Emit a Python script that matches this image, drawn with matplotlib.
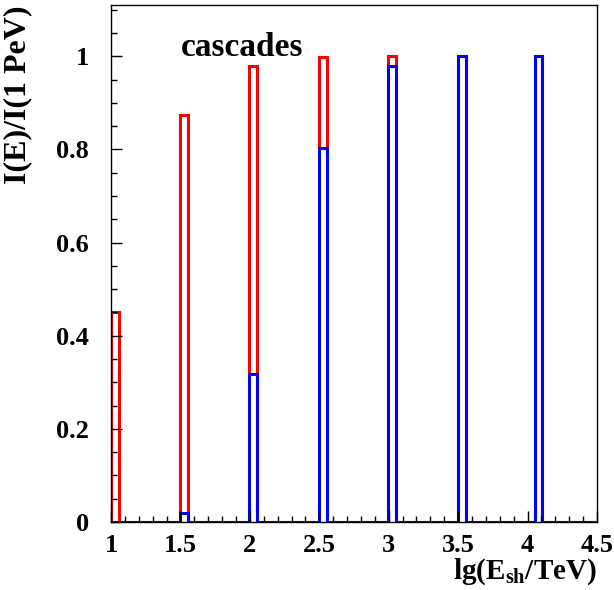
import numpy as np
import matplotlib
matplotlib.use("Agg")
import matplotlib.pyplot as plt
from matplotlib.ticker import MultipleLocator

# bin left edges, lg(E_sh/TeV)
bin_left = [1.0, 1.5, 1.995, 2.5, 2.995, 3.5, 4.05]
bin_width = 0.055
red_vals = [0.45, 0.873, 0.978, 0.998, 1.0, 1.0, 1.0]
blue_vals = [0.0, 0.019, 0.318, 0.802, 0.98, 1.0, 1.0]

plt.rcParams['font.family'] = ['Liberation Serif', 'DejaVu Serif']
plt.rcParams['font.weight'] = 'bold'
plt.rcParams['mathtext.fontset'] = 'custom'
plt.rcParams['mathtext.rm'] = 'Liberation Serif:bold'
plt.rcParams['mathtext.bf'] = 'Liberation Serif:bold'
plt.rcParams['mathtext.it'] = 'Liberation Serif:bold'


def build_steps(left, width, vals, xmax=4.5):
    edges = [left[0]]
    heights = []
    for l, v in zip(left, vals):
        if l > edges[-1]:
            heights.append(0.0)
            edges.append(l)
        heights.append(v)
        edges.append(l + width)
    if edges[-1] < xmax:
        heights.append(0.0)
        edges.append(xmax)
    return np.array(edges), np.array(heights)


fig = plt.figure(figsize=(6.14, 5.90), dpi=100)
ax = fig.add_axes([0.1808, 0.1153, 0.7915, 0.8762])

e, h = build_steps(bin_left, bin_width, red_vals)
ax.stairs(h, e, color='#ff0000', lw=2.2, baseline=0)
e, h = build_steps(bin_left, bin_width, blue_vals)
ax.stairs(h, e, color='#0000ff', lw=2.2, baseline=0)

ax.set_xlim(1, 4.5)
ax.set_ylim(0, 1.11)
ax.xaxis.set_major_locator(MultipleLocator(0.5))
ax.xaxis.set_minor_locator(MultipleLocator(0.1))
ax.yaxis.set_major_locator(MultipleLocator(0.2))
ax.yaxis.set_minor_locator(MultipleLocator(0.05))
ax.tick_params(which='both', direction='in', top=False, right=False, labelsize=19, width=1)
ax.tick_params(which='major', length=8)
ax.tick_params(which='minor', length=4)
ax.tick_params(axis='y', which='major', pad=16)
ax.tick_params(axis='x', which='major', pad=9)
ax.xaxis.set_major_formatter(plt.FuncFormatter(lambda v, p: f"{v:g}"))
ax.yaxis.set_major_formatter(plt.FuncFormatter(lambda v, p: f"{v:g}"))
for s in ax.spines.values():
    s.set_linewidth(1)

ax.text(1.5, 1.0, 'cascades', fontsize=24, fontweight='bold', va='baseline')
fig.text(0.972, 0.005, r'lg(E$_{\mathrm{sh}}$/TeV)', ha='right', va='bottom', fontsize=21, fontweight='bold')
fig.text(0.029, 0.99, 'I(E)/I(1 PeV)', rotation=90, ha='center', va='top', fontsize=23, fontweight='bold')

fig.savefig('out.png', dpi=100)
